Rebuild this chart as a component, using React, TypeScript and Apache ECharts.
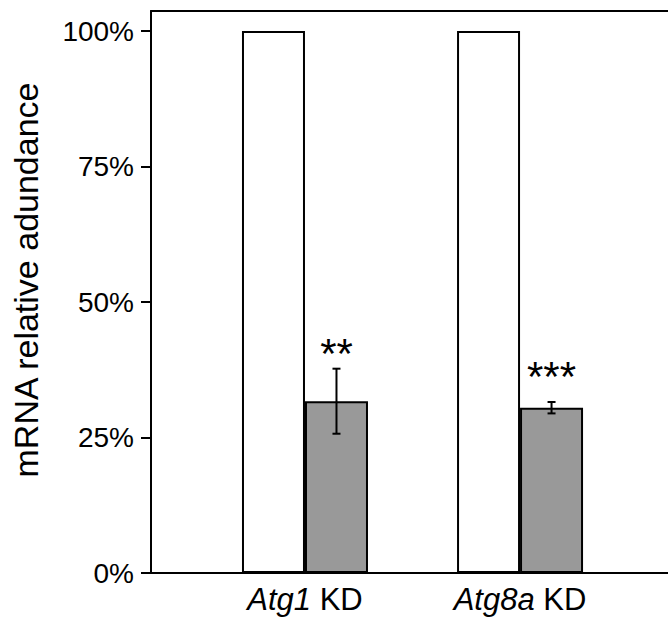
import React, { useEffect, useRef } from "react";
import * as echarts from "echarts";

const categories = ["Atg1", "Atg8a"];
const categorySuffix = " KD";
const groupPositions = [1, 2];
const controlValues = [100, 100];
const kdValues = [31.7, 30.5];
const kdErrors = [6.0, 1.05];
const sigLabels = ["**", "***"];
const yTicks = [0, 25, 50, 75, 100];

const FONT = "'Liberation Sans', Arial, Helvetica, sans-serif";
const BAR_W = 63;
const SIG_LIFT = [36, 47];

export default function App() {
  const ref = useRef<HTMLDivElement>(null);
  useEffect(() => {
    if (!ref.current) return;
    const chart = echarts.init(ref.current, undefined, { renderer: "svg" });
    const option: any = {
      animation: false,
      backgroundColor: "#fff",
      grid: {
        left: 151,
        top: 11,
        bottom: 45,
        right: 0,
        show: false,
      },
      xAxis: [
        {
          type: "value",
          min: 0.284,
          max: 2.688,
          splitLine: { show: false },
          axisLine: { show: true, lineStyle: { color: "#000", width: 2 } },
          axisTick: { show: false },
          axisLabel: {
            customValues: groupPositions,
            margin: 11,
            fontSize: 31,
            color: "#000",
            fontFamily: FONT,
            formatter: (v: number) => {
              const i = groupPositions.indexOf(v);
              return i >= 0 ? `{i|${categories[i]}}${categorySuffix}` : "";
            },
            rich: {
              i: { fontStyle: "italic", fontSize: 31, color: "#000", fontFamily: FONT },
            },
          },
        },
        {
          type: "value",
          position: "top",
          min: 0.284,
          max: 2.688,
          splitLine: { show: false },
          axisLine: { show: true, onZero: false, lineStyle: { color: "#000", width: 2 } },
          axisTick: { show: false },
          axisLabel: { show: false },
        },
      ],
      yAxis: {
        type: "value",
        min: 0,
        max: 103.7,
        name: "mRNA relative adundance",
        nameLocation: "middle",
        nameGap: 108,
        nameTextStyle: { fontSize: 34, color: "#000", fontFamily: FONT, padding: [0, 0, 0, 24] },
        splitLine: { show: false },
        axisLine: { show: true, lineStyle: { color: "#000", width: 2 } },
        axisTick: {
          show: true,
          inside: false,
          length: 10,
          customValues: yTicks,
          lineStyle: { color: "#000", width: 2 },
        },
        axisLabel: {
          customValues: yTicks,
          margin: 17,
          fontSize: 28,
          color: "#000",
          fontFamily: FONT,
          formatter: (v: number) => `${v}%`,
        },
      },
      series: [
        {
          type: "bar",
          barWidth: BAR_W,
          barGap: "0%",
          data: groupPositions.map((x, i) => [x, controlValues[i]]),
          itemStyle: { color: "#fff", borderColor: "#000", borderWidth: 2 },
        },
        {
          type: "bar",
          barWidth: BAR_W,
          barGap: "0%",
          data: groupPositions.map((x, i) => [x, kdValues[i]]),
          itemStyle: { color: "#999999", borderColor: "#000", borderWidth: 2 },
        },
        {
          type: "custom",
          z: 10,
          data: groupPositions.map((x, i) => [x, kdValues[i], kdErrors[i]]),
          renderItem: (params: any, api: any) => {
            const x = api.value(0);
            const m = api.value(1);
            const e = api.value(2);
            const top = api.coord([x, m + e]);
            const bot = api.coord([x, m - e]);
            const cx = top[0] + BAR_W / 2;
            const st = { stroke: "#000", lineWidth: 2 };
            return {
              type: "group",
              children: [
                { type: "line", shape: { x1: cx, y1: top[1], x2: cx, y2: bot[1] }, style: st },
                { type: "line", shape: { x1: cx - 4, y1: top[1], x2: cx + 4, y2: top[1] }, style: st },
                { type: "line", shape: { x1: cx - 4, y1: bot[1], x2: cx + 4, y2: bot[1] }, style: st },
                {
                  type: "text",
                  x: cx,
                  y: top[1] - SIG_LIFT[params.dataIndex],
                  style: {
                    text: sigLabels[params.dataIndex],
                    fontSize: 42,
                    fontFamily: FONT,
                    fill: "#000",
                    align: "center",
                    verticalAlign: "top",
                  },
                },
              ],
            };
          },
        },
      ],
    };
    chart.setOption(option);
    return () => chart.dispose();
  }, []);
  return (
    <div
      ref={ref}
      style={{ position: "fixed", left: 0, top: 0, width: 668, height: 618 }}
    />
  );
}
